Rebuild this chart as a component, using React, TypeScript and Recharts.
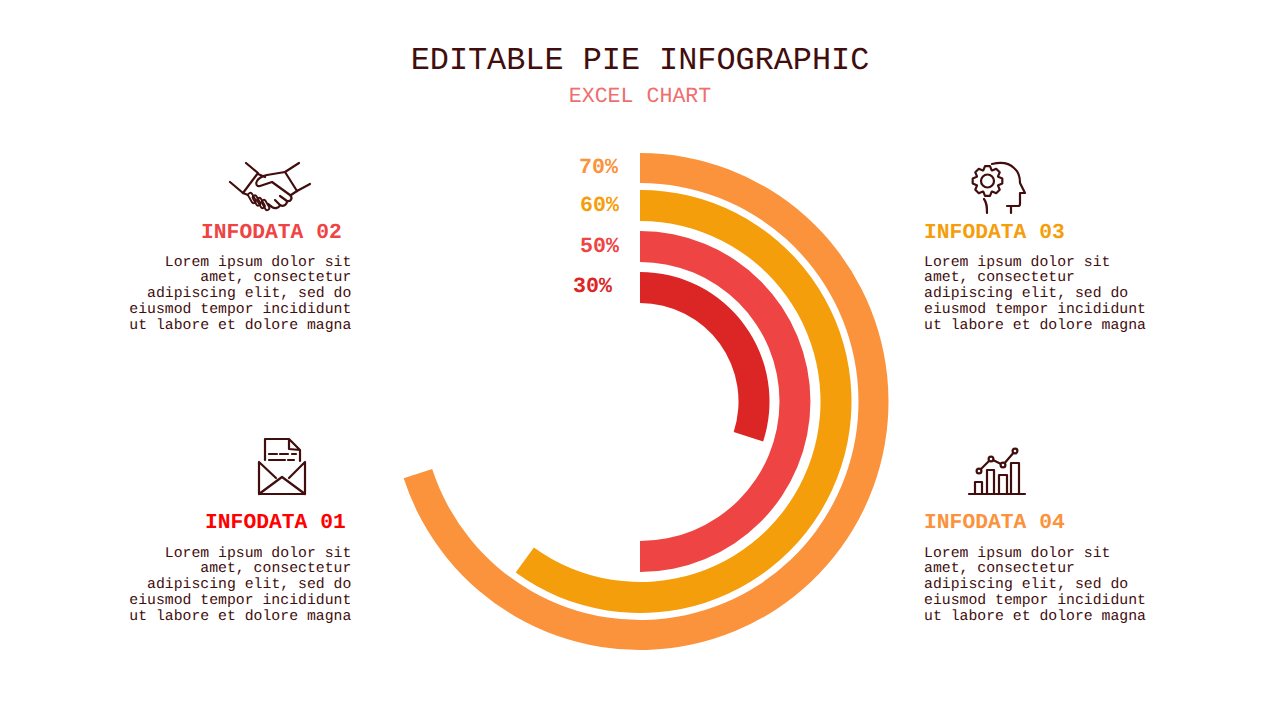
import React from 'react';
import { PieChart, Pie, Cell } from 'recharts';

const percents = [70, 60, 50, 30];
const ringColors = ['#fb923c', '#f59e0b', '#ef4444', '#dc2626'];
const outerRadii = [248.5, 211.5, 170.5, 129.5];
const innerRadii = [218.5, 180.5, 139.5, 98.5];
const percentLabelPos = [
  { x: 579, y: 173 },
  { x: 580, y: 211 },
  { x: 580, y: 252 },
  { x: 573, y: 292 },
];

const bodyLines = [
  'Lorem ipsum dolor sit',
  'amet, consectetur',
  'adipiscing elit, sed do',
  'eiusmod tempor incididunt',
  'ut labore et dolore magna',
];
const bodyOffsets = [0, 15, 31, 47, 63];

const DARK = '#410d0d';
const FONT = '"Liberation Mono", monospace';

// gear outline for the head icon
const gearPath = (() => {
  const cx = 987.5;
  const cy = 181;
  const teeth = 8;
  let d = '';
  for (let i = 0; i < teeth; i++) {
    const a = (i / teeth) * Math.PI * 2 - Math.PI / 2;
    const step = Math.PI / teeth;
    const pts: [number, number][] = [
      [-step * 0.95, 11.5],
      [-step * 0.42, 15],
      [step * 0.42, 15],
      [step * 0.95, 11.5],
    ];
    pts.forEach(([da, r]) => {
      const x = cx + Math.cos(a + da) * r;
      const y = cy + Math.sin(a + da) * r;
      d += `${d ? 'L' : 'M'}${x.toFixed(1)} ${y.toFixed(1)}`;
    });
  }
  return d + 'Z';
})();

const Info = ({ title, color, titleX, titleY, bodyY, right }: any) => (
  <g fontFamily={FONT} textRendering="geometricPrecision">
    <text x={titleX} y={titleY} fontSize={21.33} fontWeight="bold" fill={color}>{title}</text>
    {bodyLines.map((line, i) => (
      <text
        key={line}
        x={right ? 351.3 : 924}
        y={bodyY + bodyOffsets[i]}
        fontSize={14.8}
        fill={DARK}
        textAnchor={right ? 'end' : 'start'}
      >
        {line}
      </text>
    ))}
  </g>
);

const Icons = () => (
  <g fill="none" stroke={DARK} strokeWidth={2.2} strokeLinejoin="round" strokeLinecap="round">
    {/* handshake */}
    <path d="M246 163L258 173L243 193L230 182M299 163L285 172L297 191L310 184" />
    <path d="M285 172L267 175C262 176 258 179 257 181C255 184 257 187 260 186L272 182L290 195C293 198 291 202 287 201L280 196M287 201C287 205 283 207 280 205L275 200M280 205C279 208 275 209 272 207L268 204" />
    <path d="M258 174L265 177M243 193L248 195M297 191L291 195" />
    {[[252, 198], [256.5, 200.5], [261, 203], [265.5, 205]].map(([x, y]) => (
      <rect key={x} x={x - 5.5} y={y - 2.1} width={11} height={4.2} rx={2.1} transform={`rotate(60 ${x} ${y})`} strokeWidth={1.9} />
    ))}
    {/* head with gear */}
    <path d={gearPath} />
    <circle cx={987.5} cy={181} r={6.5} />
    <path d="M992 164C1000 162 1008 162 1014 168C1019 172 1020 178 1020 183L1025 193L1020 193L1020 204C1020 205 1019 206 1018 206L1007 206M1011 206L1011 213M984 199C987 203 987 207 987 213" />
    {/* envelope with letter */}
    <path d="M265 460L265 439L289 439L300 450L300 461M289 439L289 449L300 450" />
    <path d="M269 454L277 454M280 454L288 454M292 454L296 454M269 460L285 460M288 460L294 460" />
    <path d="M259 462L259 494L305 494L305 462M259 462L276 478M305 462L289 478M259 494L282 477L305 494" />
    {/* bars and trend */}
    <path d="M969 494L1025 494M975 494L975 482L982 482L982 494M987 494L987 470L994 470L994 494M999 494L999 475L1007 475L1007 494M1011 494L1011 463L1019 463L1019 494" />
    <path d="M979 471L991 459L1003 465L1015 451" />
    {[[979, 471], [991, 459], [1003, 465], [1015, 451]].map(([x, y]) => (
      <circle key={x} cx={x} cy={y} r={2.4} fill="#fff" />
    ))}
  </g>
);

export default function App() {
  return (
    <div style={{ position: 'absolute', left: 0, top: 0, width: 1280, height: 720, background: '#fff' }}>
      <PieChart width={1280} height={720} margin={{ top: 0, right: 0, bottom: 0, left: 0 }}>
        {percents.map((p, i) => (
          <Pie
            key={p}
            data={[{ name: 'value', value: p }, { name: 'rest', value: 100 - p }]}
            dataKey="value"
            cx={640}
            cy={401.5}
            innerRadius={innerRadii[i]}
            outerRadius={outerRadii[i]}
            startAngle={90}
            endAngle={-270}
            stroke="none"
            isAnimationActive={false}
          >
            <Cell fill={ringColors[i]} />
            <Cell fill="none" />
          </Pie>
        ))}
      </PieChart>
      <svg width={1280} height={720} style={{ position: 'absolute', left: 0, top: 0 }}>
        <g textRendering="geometricPrecision">
          <text x={640} y={69} textAnchor="middle" fontFamily={FONT} fontSize={31.85} fill={DARK}>EDITABLE PIE INFOGRAPHIC</text>
          <text x={640} y={102} textAnchor="middle" fontFamily={FONT} fontSize={21.6} fill="#ee6f6f">EXCEL CHART</text>
          {percents.map((p, i) => (
            <text key={p} x={percentLabelPos[i].x} y={percentLabelPos[i].y} fontFamily={FONT} fontSize={21.6} fontWeight="bold" fill={ringColors[i]}>
              {p}%
            </text>
          ))}
        </g>
        <Info title="INFODATA 02" color="#ef4444" titleX={201} titleY={238} bodyY={266} right />
        <Info title="INFODATA 01" color="#ff0000" titleX={205} titleY={528} bodyY={557} right />
        <Info title="INFODATA 03" color="#f59e0b" titleX={924} titleY={238} bodyY={266} />
        <Info title="INFODATA 04" color="#fb923c" titleX={924} titleY={528} bodyY={557} />
        <Icons />
      </svg>
    </div>
  );
}
